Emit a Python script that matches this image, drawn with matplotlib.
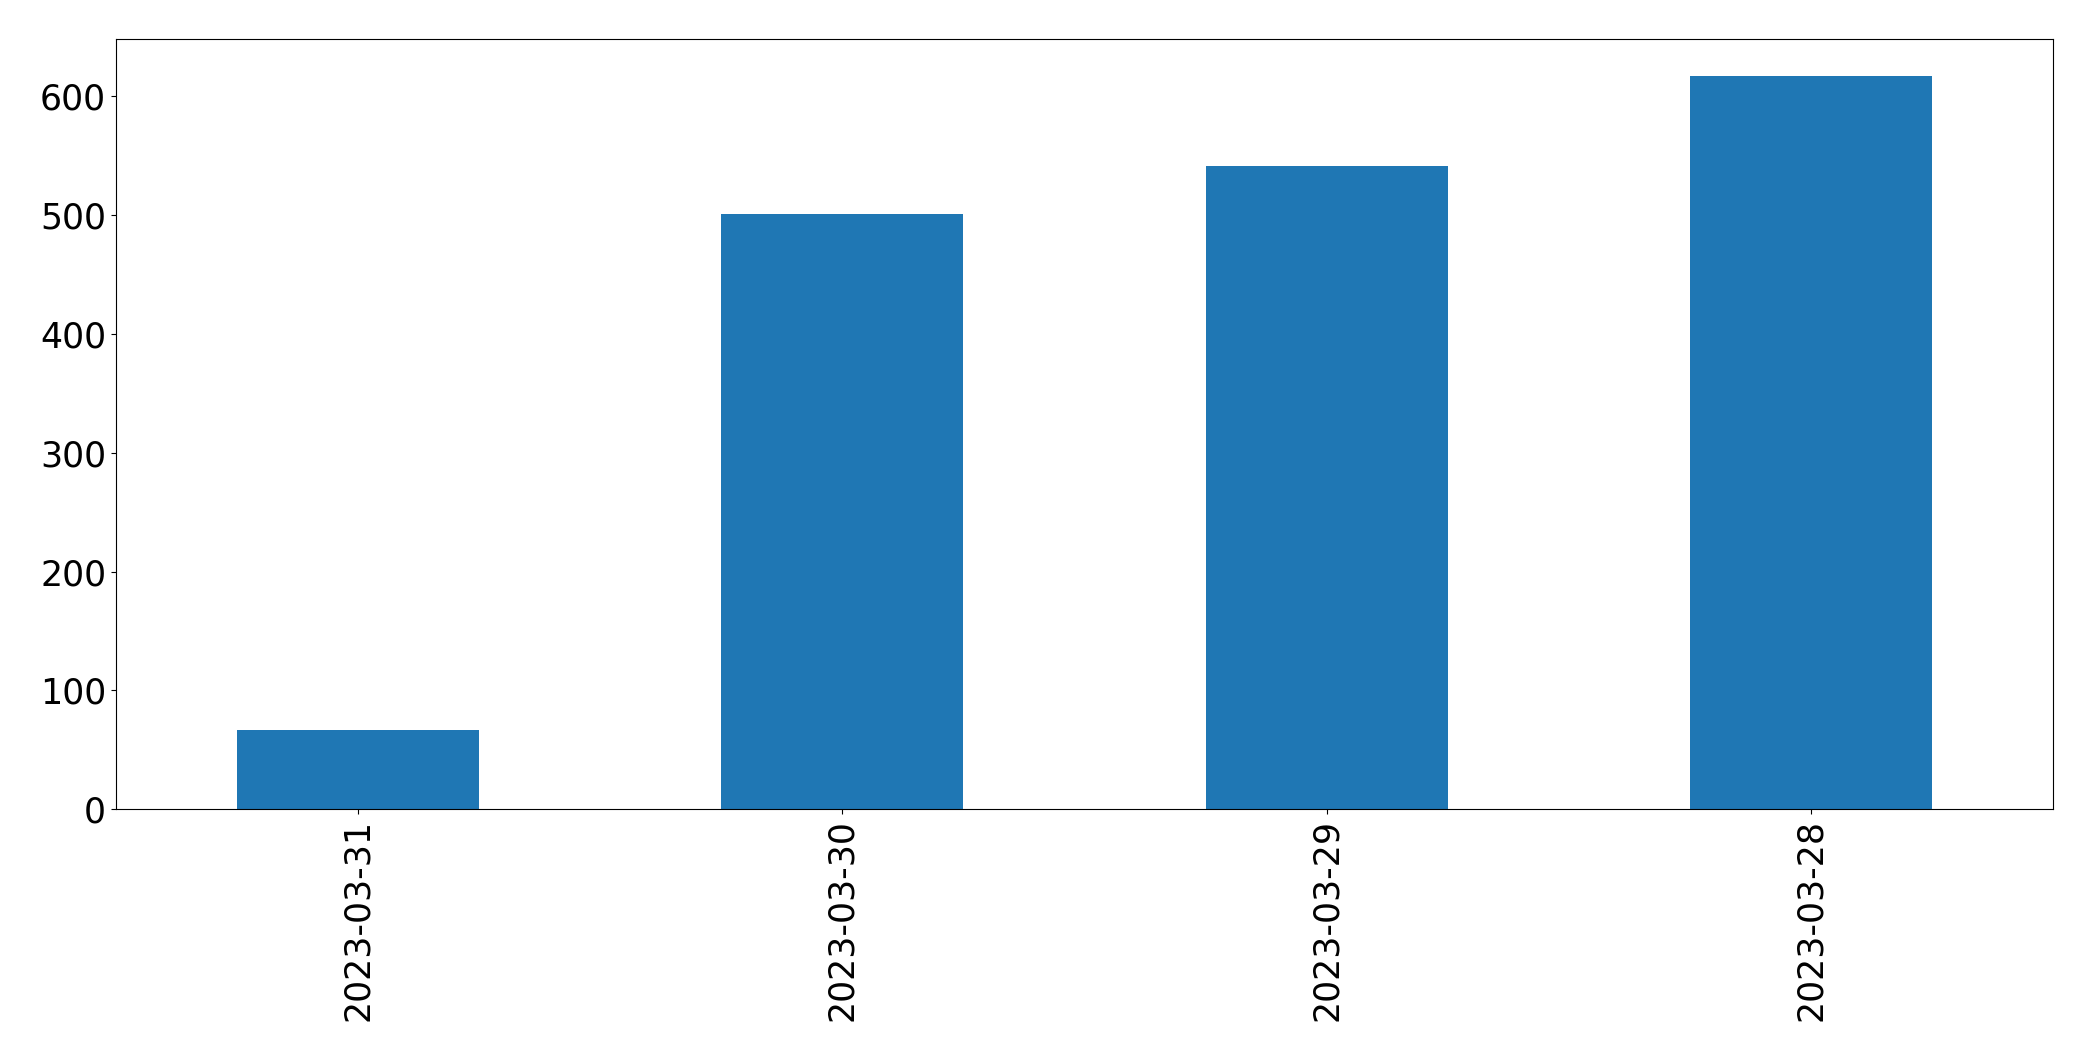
import matplotlib
matplotlib.use("Agg")
import matplotlib.pyplot as plt

# donnees
dates = ["2023-03-31", "2023-03-30", "2023-03-29", "2023-03-28"]
valeurs = [67, 501, 541, 617]

fig = plt.figure(figsize=(20.93, 10.61), dpi=100)
ax = fig.add_axes([0.0554, 0.2372, 0.9255, 0.7258])

x = range(len(dates))
ax.bar(x, valeurs, width=0.5, color="#1f77b4")
ax.set_xlim(-0.5, len(dates) - 0.5)
ax.set_ylim(0, max(valeurs) * 1.05)
ax.set_xticks(list(x))
ax.set_xticklabels(dates, rotation=90)
ax.tick_params(axis="both", labelsize=25)

fig.savefig("out.png", dpi=100)
